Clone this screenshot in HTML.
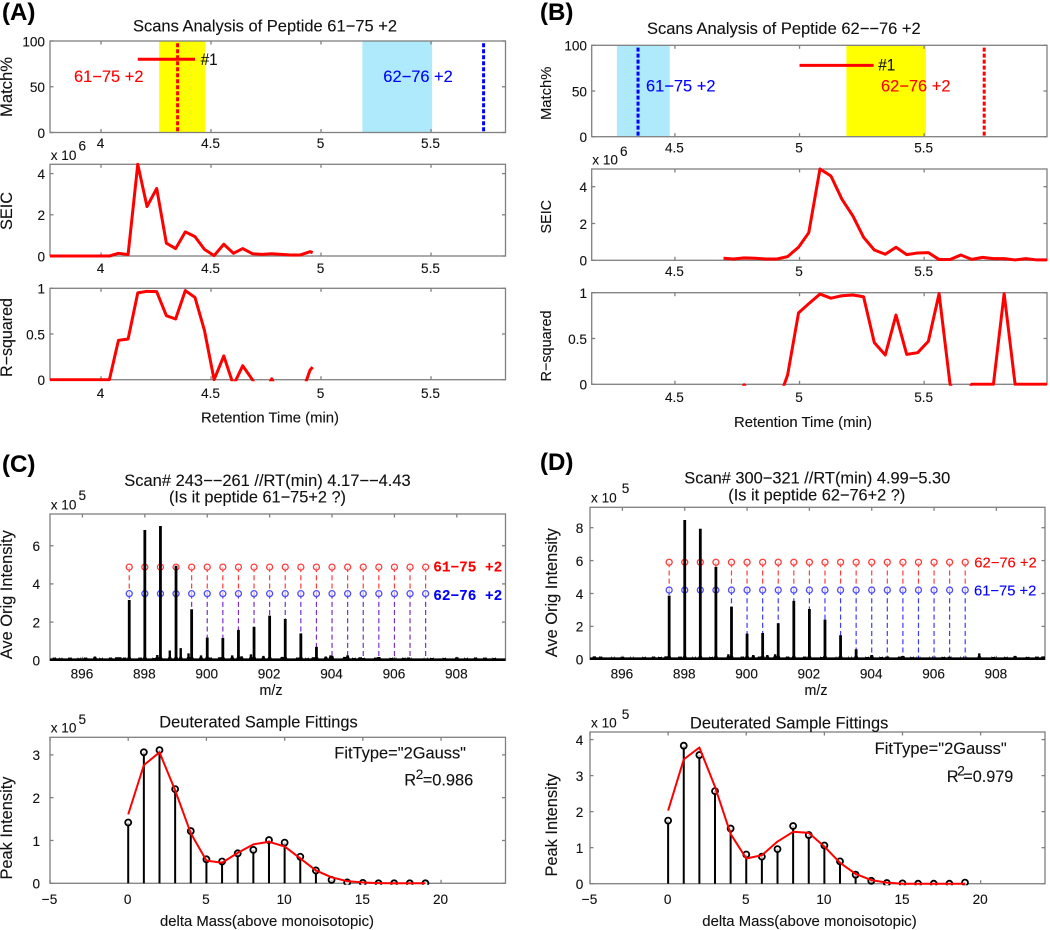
<!DOCTYPE html>
<html lang="en">
<head>
<meta charset="utf-8">
<title>Scans Analysis of Peptides</title>
<style>
  html, body { margin: 0; padding: 0; background: #fff; }
  svg { display: block; font-family: "Liberation Sans", sans-serif; fill: #111; filter: blur(0.35px); }
  text { font-size: 16.4px; fill: #111; stroke: #111; stroke-width: 0.12px; }
  .tl { font-size: 13.6px; }
  .pl { font-size: 24px; font-weight: bold; fill: #000; }
  .ax { font-size: 14.8px; }
  .bl { font-size: 14.6px; }
  text.red { fill: #ff0000; stroke: #ff0000; }
  text.blue { fill: #0000ff; stroke: #0000ff; }
  text.mono { font-family: "Liberation Mono", monospace; font-weight: bold; font-size: 14.4px; }
  text.leg { font-size: 14.8px; }
</style>
</head>
<body>
<svg id="chart" xmlns="http://www.w3.org/2000/svg" width="1050" height="930" viewBox="0 0 1050 930">
  <rect x="0" y="0" width="1050" height="930" fill="#fff"/>
  <g id="plots"></g>

  <!-- panel letters -->
  <text class="pl" x="2" y="20">(A)</text>
  <text class="pl" x="540" y="20">(B)</text>
  <text class="pl" x="2" y="472">(C)</text>
  <text class="pl" x="540" y="470">(D)</text>

  <!-- panel A text -->
  <text x="133" y="31.5" textLength="264" lengthAdjust="spacingAndGlyphs">Scans Analysis of Peptide 61−75 +2</text>
  <text transform="translate(12 87) rotate(-90)" text-anchor="middle" textLength="60" lengthAdjust="spacingAndGlyphs">Match%</text>
  <text transform="translate(12 211) rotate(-90)" text-anchor="middle" textLength="38" lengthAdjust="spacingAndGlyphs">SEIC</text>
  <text transform="translate(12 337.5) rotate(-90)" text-anchor="middle" textLength="79" lengthAdjust="spacingAndGlyphs">R−squared</text>
  <text class="ax" x="201" y="422.5" textLength="138" lengthAdjust="spacingAndGlyphs">Retention Time (min)</text>
  <text class="tl" x="50.7" y="160">x 10</text>
  <text class="tl" x="78.5" y="150.5">6</text>
  <text class="red" x="74" y="82" textLength="69.5" lengthAdjust="spacingAndGlyphs">61−75 +2</text>
  <text class="blue" x="383.3" y="82" textLength="69.5" lengthAdjust="spacingAndGlyphs">62−76 +2</text>
  <text x="200.7" y="65" textLength="17" lengthAdjust="spacingAndGlyphs">#1</text>

  <!-- panel B text -->
  <text x="647" y="34" textLength="273.7" lengthAdjust="spacingAndGlyphs">Scans Analysis of Peptide 62−−76 +2</text>
  <text class="bl" transform="translate(551 93.3) rotate(-90)" text-anchor="middle" textLength="53.5" lengthAdjust="spacingAndGlyphs">Match%</text>
  <text class="bl" transform="translate(551 216.7) rotate(-90)" text-anchor="middle" textLength="33.5" lengthAdjust="spacingAndGlyphs">SEIC</text>
  <text class="bl" transform="translate(551 346) rotate(-90)" text-anchor="middle" textLength="71" lengthAdjust="spacingAndGlyphs">R−squared</text>
  <text class="ax" x="734" y="427" textLength="138" lengthAdjust="spacingAndGlyphs">Retention Time (min)</text>
  <text class="tl" x="592.3" y="164.3">x 10</text>
  <text class="tl" x="620" y="156">6</text>
  <text class="blue" x="646" y="91.7" textLength="69.5" lengthAdjust="spacingAndGlyphs">61−75 +2</text>
  <text class="red" x="881" y="91.7" textLength="69.5" lengthAdjust="spacingAndGlyphs">62−76 +2</text>
  <text x="878.3" y="70.7" textLength="17" lengthAdjust="spacingAndGlyphs">#1</text>

  <!-- panel C text -->
  <text x="124.3" y="486" textLength="286.4" lengthAdjust="spacingAndGlyphs">Scan# 243−−261 //RT(min) 4.17−−4.43</text>
  <text x="169" y="502.7" textLength="177" lengthAdjust="spacingAndGlyphs">(Is it peptide 61−75+2 ?)</text>
  <text transform="translate(12 594.7) rotate(-90)" text-anchor="middle" textLength="129" lengthAdjust="spacingAndGlyphs">Ave Orig Intensity</text>
  <text class="ax" x="259.5" y="695" textLength="23" lengthAdjust="spacingAndGlyphs">m/z</text>
  <text class="tl" x="50.7" y="509.3">x 10</text>
  <text class="tl" x="78.5" y="500">5</text>
  <text class="red mono" x="433.3" y="571.5" textLength="69" lengthAdjust="spacingAndGlyphs">61−75 +2</text>
  <text class="blue mono" x="433.3" y="600" textLength="69" lengthAdjust="spacingAndGlyphs">62−76 +2</text>
  <text x="159.3" y="727.3" textLength="198.4" lengthAdjust="spacingAndGlyphs">Deuterated Sample Fittings</text>
  <text transform="translate(12 828) rotate(-90)" text-anchor="middle" textLength="103" lengthAdjust="spacingAndGlyphs">Peak Intensity</text>
  <text class="ax" x="160" y="926" textLength="214" lengthAdjust="spacingAndGlyphs">delta Mass(above monoisotopic)</text>
  <text class="tl" x="50.7" y="732.7">x 10</text>
  <text class="tl" x="78.5" y="724">5</text>
  <text x="334.3" y="758.3" textLength="131.7" lengthAdjust="spacingAndGlyphs">FitType="2Gauss"</text>
  <text x="404.3" y="785.7">R</text>
  <text class="tl" x="415.7" y="779">2</text>
  <text x="422.7" y="785.7" textLength="50.6" lengthAdjust="spacingAndGlyphs">=0.986</text>

  <!-- panel D text -->
  <text x="684.3" y="483.3" textLength="266" lengthAdjust="spacingAndGlyphs">Scan# 300−321 //RT(min) 4.99−5.30</text>
  <text x="728.3" y="500.7" textLength="177" lengthAdjust="spacingAndGlyphs">(Is it peptide 62−76+2 ?)</text>
  <text transform="translate(557 592.7) rotate(-90)" text-anchor="middle" textLength="129" lengthAdjust="spacingAndGlyphs">Ave Orig Intensity</text>
  <text class="ax" x="804.5" y="695" textLength="23" lengthAdjust="spacingAndGlyphs">m/z</text>
  <text class="tl" x="591" y="502.3">x 10</text>
  <text class="tl" x="621.7" y="493">5</text>
  <text class="red leg" x="974.3" y="567.3" textLength="62.4" lengthAdjust="spacingAndGlyphs">62−76 +2</text>
  <text class="blue leg" x="974" y="595.7" textLength="62.4" lengthAdjust="spacingAndGlyphs">61−75 +2</text>
  <text x="690" y="728.3" textLength="198.3" lengthAdjust="spacingAndGlyphs">Deuterated Sample Fittings</text>
  <text transform="translate(557 825) rotate(-90)" text-anchor="middle" textLength="103" lengthAdjust="spacingAndGlyphs">Peak Intensity</text>
  <text class="ax" x="702.3" y="926" textLength="214.4" lengthAdjust="spacingAndGlyphs">delta Mass(above monoisotopic)</text>
  <text class="tl" x="591" y="727.3">x 10</text>
  <text class="tl" x="621.7" y="719">5</text>
  <text x="874.7" y="754" textLength="132" lengthAdjust="spacingAndGlyphs">FitType="2Gauss"</text>
  <text x="946.7" y="782">R</text>
  <text class="tl" x="957.3" y="775.7">2</text>
  <text x="963.3" y="782" textLength="50" lengthAdjust="spacingAndGlyphs">=0.979</text>
</svg>

<script>
/* ---------- Data ---------- */

// Panel A: retention time series
const aTimes = [3.768,4.038,4.079,4.123,4.167,4.209,4.253,4.297,4.339,4.383,4.427,4.470,4.514,4.558,4.602,4.644,4.688,4.732,4.776,4.818,4.862,4.906,4.950,4.962];
const aSeic = [0,0,0.13,0.07,4.45,2.4,3.28,0.62,0.36,1.17,0.94,0.32,0.02,0.57,0.13,0.36,0.11,0.08,0.11,0.08,0.05,0.05,0.21,0.16];
const aRsq = [0,0,0.43,0.445,0.95,0.967,0.963,0.70,0.664,0.975,0.90,0.54,0,0.26,-0.06,0.153,0,-0.2,0.01,-0.2,-0.2,-0.2,0.105,0.138];
const aTargetBand = [4.264,4.474];
const aOtherBand = [5.188,5.505];
const aTargetRt = [4.348];
const aOtherRt = [5.739];
const aMatchSpan = [4.167,4.427];
const aMatchValue = [80];

// Panel B: retention time series
const bTimes = [4.695,4.735,4.778,4.822,4.865,4.909,4.952,4.996,5.037,5.082,5.126,5.170,5.214,5.257,5.300,5.344,5.387,5.430,5.474,5.517,5.560,5.604,5.647,5.691,5.734,5.778,5.821,5.865,5.908,5.952,5.993];
const bSeic = [0.11,0.07,0.13,0.11,0.07,0.07,0.2,0.71,1.5,4.96,4.58,3.32,2.41,1.25,0.56,0.33,0.71,0.31,0.4,0.42,0.04,0.04,0.29,0.05,0.16,0.09,0.09,0.02,0.09,0.02,0.02];
const bRsq = [-0.2,-0.2,-0.005,-0.2,-0.2,-0.225,0.10,0.78,0.88,0.985,0.94,0.967,0.975,0.956,0.455,0.32,0.756,0.327,0.345,0.47,0.99,0,-0.2,0,0,0,0.99,0,0,0,0];
const bTargetBand = [5.188,5.507];
const bOtherBand = [4.267,4.479];
const bTargetRt = [5.741];
const bOtherRt = [4.352];
const bMatchSpan = [5.0,5.297];
const bMatchValue = [78];

// Spectra
const isoMz = [897.5,898,898.5,899,899.5,900,900.5,901,901.5,902,902.5,903,903.5,904,904.5,905,905.5,906,906.5,907];
const cPeaks = [3.16,6.82,7.03,4.95,2.67,1.19,1.17,1.59,1.75,2.34,2.16,1.41,0.70,0.23,0.26,0.12,0.17,0.10,0.10,0.07];
const cMinorMz = [895.1,895.3,895.6,895.9,896.1,896.4,896.6,896.9,897.1,897.2,897.35,897.85,898.3,898.4,898.8,899.15,899.4,899.8,900.1,900.4,900.8,901.1,901.4,901.8,902.4,902.9,903.2,903.4,903.8,903.95,904.4,904.7,904.9,905.4,905.9,906.3,906.45,907.2,907.6,908.0,908.3,908.6,908.9,909.2];
const cMinor = [0.08,0.05,0.08,0.05,0.08,0.14,0.05,0.08,0.1,0.1,0.08,0.08,0.06,0.22,0.45,0.58,0.3,0.2,0.08,0.1,0.2,0.15,0.25,0.17,0.12,0.08,0.05,0.1,0.14,0.2,0.12,0.06,0.1,0.08,0.06,0.07,0.08,0.06,0.06,0.1,0.05,0.09,0.08,0.06];
const cTargetLevel = [4.88];
const cOtherLevel = [3.49];
const dPeaks = [3.87,8.47,7.94,5.61,3.2,1.56,1.6,2.19,3.55,3.06,2.41,1.46,0.61,0.26,0.16,0.2,0.1,0.1,0.15,0.1];
const dMinorMz = [895.1,895.3,895.7,896,896.3,896.7,897,897.2,897.4,897.85,898.3,898.85,899.4,899.85,900.2,900.4,900.65,900.9,901.3,901.85,902.4,902.9,903.3,903.85,904.3,904.9,905.3,905.9,906.3,906.9,907.45,907.9,908.3,908.6,909,909.3,909.5];
const dMinor = [0.12,0.1,0.06,0.08,0.05,0.07,0.1,0.08,0.12,0.1,0.06,0.08,0.25,0.1,0.2,0.1,0.2,0.25,0.1,0.1,0.08,0.06,0.05,0.08,0.08,0.1,0.07,0.05,0.08,0.05,0.3,0.08,0.07,0.15,0.08,0.1,0.12];
const dTargetLevel = [5.9];
const dOtherLevel = [4.21];

// Fits
const deltaMass = [0,1,2,3,4,5,6,7,8,9,10,11,12,13,14,15,16,17,18,19];
const cObserved = [1.42,3.06,3.11,2.2,1.22,0.56,0.51,0.70,0.78,1.01,0.95,0.62,0.30,0.08,0.02,0.01,0,0,0,0];
const cFit = [1.61,2.76,3.06,2.17,1.17,0.53,0.48,0.71,0.91,0.97,0.86,0.58,0.30,0.14,0.05,0.02,0.005,0,0,0];
const dObserved = [1.75,3.83,3.57,2.57,1.53,0.81,0.75,0.96,1.6,1.35,1.06,0.62,0.25,0.08,0.02,0.01,0,0,0,0.03];
const dFit = [2.03,3.45,3.78,2.69,1.38,0.70,0.79,1.17,1.44,1.41,1.03,0.58,0.27,0.10,0.03,0,0,0,0,0];

// Tick labels
const rtTicksA = ['4','4.5','5','5.5'];
const rtTicksB = ['4.5','5','5.5'];
const matchTicks = ['0','50','100'];
const seicTicksA = ['0','2','4'];
const seicTicksB = ['0','2','4'];
const rsqTicks = ['0','0.5','1'];
const mzTicks = ['896','898','900','902','904','906','908'];
const specTicksC = ['0','2','4','6'];
const specTicksD = ['0','2','4','6','8'];
const deltaTicks = ['−5','0','5','10','15','20'];
const fitTicksC = ['0','1','2','3'];
const fitTicksD = ['0','1','2','3','4'];

/* ---------- Drawing helpers ---------- */
const SVGNS = 'http://www.w3.org/2000/svg';
const root = document.getElementById('plots');
let clipCount = 0;

function mk(parent, tag, name, props) {
  const el = document.createElementNS(SVGNS, tag);
  
  
  for (const k in props) el.setAttribute(k, props[k]);
  parent.appendChild(el);
  return el;
}
const num = s => parseFloat(String(s).replace('−', '-'));

function axes(name, box, xr, yr, xTicks, yTicks, labelBase, yRight) {
  const sx = v => box.l + (v - xr[0]) / (xr[1] - xr[0]) * (box.r - box.l);
  const sy = v => box.b - (v - yr[0]) / (yr[1] - yr[0]) * (box.b - box.t);
  const wrap = mk(root, 'g', name, {});
  const id = 'clip' + (++clipCount);
  const defs = mk(wrap, 'defs', name + '-defs', {});
  const cp = mk(defs, 'clipPath', name + '-clip', { id: id });
  mk(cp, 'rect', name + '-clip-area', { x: box.l, y: box.t - 1.5, width: box.r - box.l, height: box.b - box.t + 3 });
  const plot = mk(wrap, 'g', name + '-plot-area', { 'clip-path': 'url(#' + id + ')' });
  const frame = mk(wrap, 'g', name + '-frame', { fill: 'none', stroke: '#808080', 'stroke-width': 1.3 });
  mk(frame, 'rect', name + '-box', { x: box.l, y: box.t, width: box.r - box.l, height: box.b - box.t });
  const labels = mk(wrap, 'g', name + '-tick-labels', {});
  xTicks.forEach(t => {
    const x = sx(num(t));
    mk(frame, 'line', name + '-x-tick-bottom', { x1: x, x2: x, y1: box.b, y2: box.b - 3.5 });
    mk(frame, 'line', name + '-x-tick-top', { x1: x, x2: x, y1: box.t, y2: box.t + 3.5 });
    const lb = mk(labels, 'text', name + '-x-tick-label', { x: x - 0.5, y: labelBase, 'text-anchor': 'middle', class: 'tl' });
    lb.textContent = t;
  });
  yTicks.forEach(t => {
    const y = sy(num(t));
    mk(frame, 'line', name + '-y-tick-left', { x1: box.l, x2: box.l + 3.5, y1: y, y2: y });
    mk(frame, 'line', name + '-y-tick-right', { x1: box.r, x2: box.r - 3.5, y1: y, y2: y });
    const lb = mk(labels, 'text', name + '-y-tick-label', { x: yRight, y: y + 5.3, 'text-anchor': 'end', class: 'tl' });
    lb.textContent = t;
  });
  return { sx, sy, plot, box };
}

// Data marks sit above the axis frame, except the match bands.
function raise(ax) {
  ax.plot.parentNode.appendChild(ax.plot);
}

function series(ax, name, xs, ys, color, width) {
  const pts = xs.map((v, i) => ax.sx(v).toFixed(2) + ',' + ax.sy(ys[i]).toFixed(2)).join(' ');
  raise(ax);
  return mk(ax.plot, 'polyline', name, { points: pts, fill: 'none', stroke: color, 'stroke-width': width, 'stroke-linejoin': 'round' });
}

function matchPanel(ax, prefix, targetBand, otherBand, targetRt, otherRt, span, value) {
  mk(ax.plot, 'rect', prefix + '-target-band', { x: ax.sx(targetBand[0]), y: ax.box.t, width: ax.sx(targetBand[1]) - ax.sx(targetBand[0]), height: ax.box.b - ax.box.t, fill: '#ffff00' });
  mk(ax.plot, 'rect', prefix + '-other-band', { x: ax.sx(otherBand[0]), y: ax.box.t, width: ax.sx(otherBand[1]) - ax.sx(otherBand[0]), height: ax.box.b - ax.box.t, fill: '#aeeafc' });
  const dashTop = ax.sy(97.5);
  mk(ax.plot, 'line', prefix + '-target-rt-line', { x1: ax.sx(targetRt[0]), x2: ax.sx(targetRt[0]), y1: dashTop, y2: ax.box.b, stroke: '#ff0000', 'stroke-width': 3, 'stroke-dasharray': '4 2' });
  mk(ax.plot, 'line', prefix + '-other-rt-line', { x1: ax.sx(otherRt[0]), x2: ax.sx(otherRt[0]), y1: dashTop, y2: ax.box.b, stroke: '#0000ff', 'stroke-width': 3, 'stroke-dasharray': '4 2' });
  mk(ax.plot, 'line', prefix + '-match-line', { x1: ax.sx(span[0]), x2: ax.sx(span[1]), y1: ax.sy(value[0]), y2: ax.sy(value[0]), stroke: '#ff0000', 'stroke-width': 3 });
}

function spectrumPanel(ax, prefix, mz, peaks, minorMz, minor, targetLevel, otherLevel, otherColor) {
  const targetStroke = '#ff3c3c';
  const otherStroke = '#4c4cff';
  raise(ax);
  mz.forEach((m, i) => {
    const x = ax.sx(m);
    mk(ax.plot, 'line', prefix + '-target-dash', { x1: x, x2: x, y1: ax.sy(targetLevel[0]), y2: ax.sy(otherLevel[0]), stroke: targetStroke, 'stroke-width': 1.2, 'stroke-dasharray': '5 3.2' });
    mk(ax.plot, 'line', prefix + '-other-dash', { x1: x, x2: x, y1: ax.sy(otherLevel[0]), y2: ax.sy(0), stroke: otherColor, 'stroke-width': 1.2, 'stroke-dasharray': '5 3.2' });
    mk(ax.plot, 'circle', prefix + '-target-marker', { cx: x, cy: ax.sy(targetLevel[0]), r: 3, fill: '#fff', 'fill-opacity': 0.6, stroke: targetStroke, 'stroke-width': 1.3 });
    mk(ax.plot, 'circle', prefix + '-other-marker', { cx: x, cy: ax.sy(otherLevel[0]), r: 3, fill: '#fff', 'fill-opacity': 0.6, stroke: otherStroke, 'stroke-width': 1.3 });
  });
  mk(ax.plot, 'line', prefix + '-baseline', { x1: ax.box.l, x2: ax.box.r, y1: ax.sy(0) - 0.6, y2: ax.sy(0) - 0.6, stroke: '#000', 'stroke-width': 2.6 });
  const peak = (m, h, name, halfTop) => {
    const x = ax.sx(m), base = ax.sy(0), top = ax.sy(h);
    const pts = [x - 2.8, base, x - halfTop, base - 3.5, x - halfTop, top, x + halfTop, top, x + halfTop, base - 3.5, x + 2.8, base];
    let s = '';
    for (let i = 0; i < pts.length; i += 2) s += pts[i].toFixed(2) + ',' + pts[i + 1].toFixed(2) + ' ';
    mk(ax.plot, 'polygon', name, { points: s, fill: '#000' });
  };
  minorMz.forEach((m, i) => peak(m, minor[i] + 0.06, prefix + '-minor-peak', 1.2));
  mz.forEach((m, i) => peak(m, peaks[i], prefix + '-peak', 1.4));
}

function fitPanel(ax, prefix, xs, observed, fit) {
  raise(ax);
  xs.forEach((d, i) => {
    mk(ax.plot, 'line', prefix + '-stem', { x1: ax.sx(d), x2: ax.sx(d), y1: ax.sy(0), y2: ax.sy(observed[i]), stroke: '#000', 'stroke-width': 2 });
  });
  xs.forEach((d, i) => {
    mk(ax.plot, 'circle', prefix + '-point', { cx: ax.sx(d), cy: ax.sy(observed[i]), r: 3, fill: '#fff', 'fill-opacity': 0.75, stroke: '#000', 'stroke-width': 1.8 });
  });
  series(ax, prefix + '-fit-line', xs, fit, '#ff0000', 2);
}

/* ---------- Panel A ---------- */
const rtRangeA = [3.768, 5.8386];
const a1 = axes('panel-a-match-axes', { l: 50, r: 505.5, t: 41, b: 132.5 }, rtRangeA, [0, 100], rtTicksA, matchTicks, 148, 45);
matchPanel(a1, 'panel-a', aTargetBand, aOtherBand, aTargetRt, aOtherRt, aMatchSpan, aMatchValue);
const a2 = axes('panel-a-seic-axes', { l: 50, r: 505.5, t: 164.3, b: 256 }, rtRangeA, [0, 4.45], rtTicksA, seicTicksA, 273, 45);
series(a2, 'panel-a-seic-line', aTimes, aSeic, '#ff0000', 3);
const a3 = axes('panel-a-rsquared-axes', { l: 50, r: 505.5, t: 288.3, b: 379.7 }, rtRangeA, [0, 1], rtTicksA, rsqTicks, 398, 45);
series(a3, 'panel-a-rsquared-line', aTimes, aRsq, '#ff0000', 3);

/* ---------- Panel B ---------- */
const rtRangeB = [4.166, 5.993];
const b1 = axes('panel-b-match-axes', { l: 591.7, r: 1047, t: 45.3, b: 136.7 }, rtRangeB, [0, 100], rtTicksB, matchTicks, 152.7, 587);
matchPanel(b1, 'panel-b', bTargetBand, bOtherBand, bTargetRt, bOtherRt, bMatchSpan, bMatchValue);
const b2 = axes('panel-b-seic-axes', { l: 591.7, r: 1047, t: 169, b: 260.3 }, rtRangeB, [0, 4.96], rtTicksB, seicTicksB, 276, 587);
series(b2, 'panel-b-seic-line', bTimes, bSeic, '#ff0000', 3);
const b3 = axes('panel-b-rsquared-axes', { l: 591.7, r: 1047, t: 292.7, b: 384.3 }, rtRangeB, [0, 1], rtTicksB, rsqTicks, 402, 587);
series(b3, 'panel-b-rsquared-line', bTimes, bRsq, '#ff0000', 3);

/* ---------- Panel C ---------- */
const c1 = axes('panel-c-spectrum-axes', { l: 50, r: 505.5, t: 514, b: 660.3 }, [894.96, 909.56], [0, 7.66], mzTicks, specTicksC, 678.7, 40);
spectrumPanel(c1, 'panel-c', isoMz, cPeaks, cMinorMz, cMinor, cTargetLevel, cOtherLevel, '#7a2fc8');
const c2 = axes('panel-c-fit-axes', { l: 50, r: 505.5, t: 737.3, b: 883.3 }, [-5, 24.12], [0, 3.41], deltaTicks, fitTicksC, 904, 40);
fitPanel(c2, 'panel-c', deltaMass, cObserved, cFit);

/* ---------- Panel D ---------- */
const d1 = axes('panel-d-spectrum-axes', { l: 590, r: 1045, t: 507.3, b: 659.3 }, [894.96, 909.56], [0, 9.24], mzTicks, specTicksD, 678.7, 583.3);
spectrumPanel(d1, 'panel-d', isoMz, dPeaks, dMinorMz, dMinor, dTargetLevel, dOtherLevel, '#3c3cff');
const d2 = axes('panel-d-fit-axes', { l: 590, r: 1045, t: 732, b: 883.7 }, [-5, 24.12], [0, 4.21], deltaTicks, fitTicksD, 904, 583.3);
fitPanel(d2, 'panel-d', deltaMass, dObserved, dFit);
</script>
</body>
</html>
